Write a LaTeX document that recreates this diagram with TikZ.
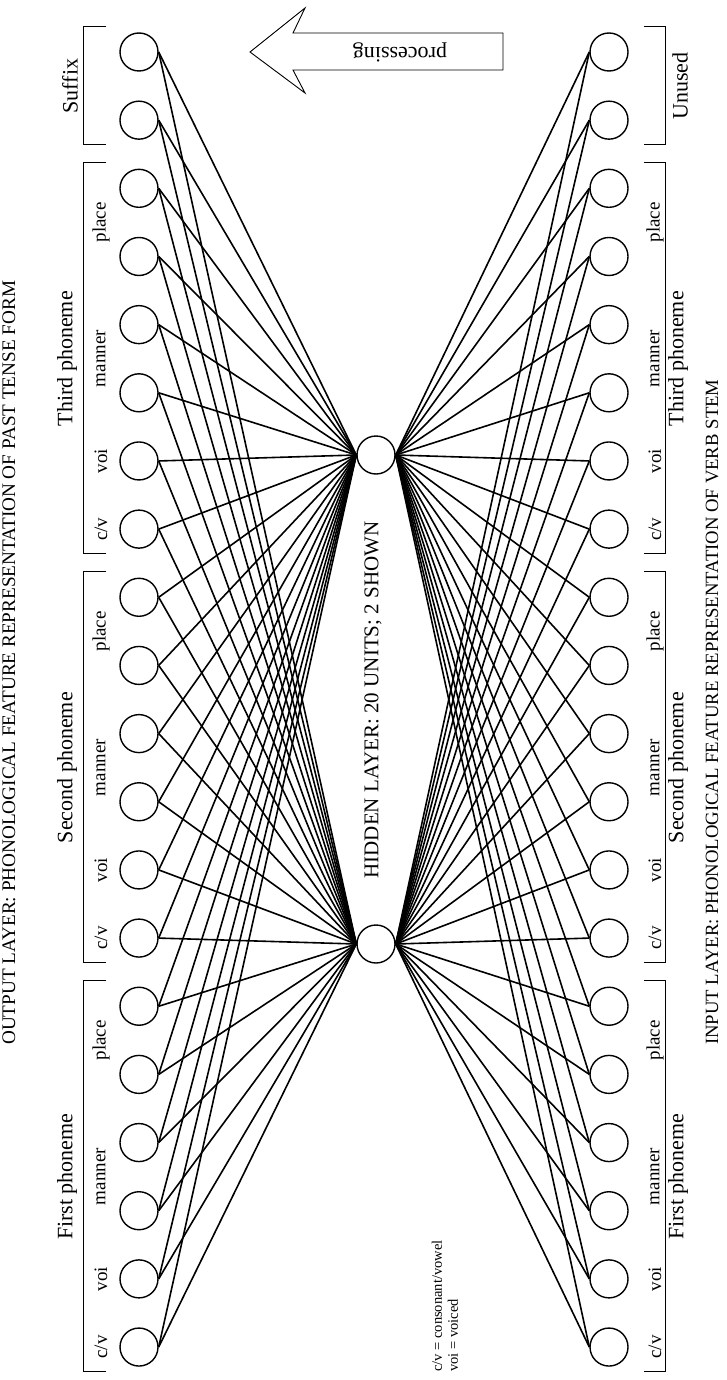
\documentclass[tikz,border=0pt]{standalone}
\usepackage{fontspec}
\setmainfont{Liberation Serif}
\begin{document}
\begin{tikzpicture}[x=1pt,y=-1pt,
  unit/.style={circle,draw,line width=1.4pt,minimum size=38pt,inner sep=0pt},
  conn/.style={line width=1.6pt},
  brk/.style={line width=0.8pt},
  feat/.style={rotate=90,font=\fontsize{19}{19}\selectfont,inner sep=0pt},
  grp/.style={rotate=90,font=\fontsize{22}{22}\selectfont,inner sep=0pt},
  ttl/.style={rotate=90,anchor=west,inner sep=0pt},
  legend/.style={rotate=90,anchor=west,font=\fontsize{14.5}{15}\selectfont,inner sep=0pt},
]
\useasboundingbox (0,0) rectangle (727,1380);
% units
\foreach \i in {0,...,19}{
  \node[unit] (o\i) at (139,{52+68.16*\i}) {};
  \node[unit] (n\i) at (609,{52+68.16*\i}) {};
}
\node[unit] (h1) at (376,455) {};
\node[unit] (h2) at (376,944) {};
% connections
\foreach \i in {0,...,19}{
  \draw[conn] (o\i.east) -- (h1.west);
  \draw[conn] (o\i.east) -- (h2.west);
  \draw[conn] (n\i.west) -- (h1.east);
  \draw[conn] (n\i.west) -- (h2.east);
}
% feature labels
\foreach \k in {0,6,12}{
  \node[feat] (lpl\k) at (101,{52+68.16*(2.5+\k)}) {place};
  \node[feat] (lma\k) at (101,{52+68.16*(4.5+\k)}) {manner};
  \node[feat] (lvo\k) at (101,{52+68.16*(6+\k)}) {voi};
  \node[feat] (lcv\k) at (101,{52+68.16*(7+\k)}) {c/v};
  \node[feat] (rpl\k) at (655,{52+68.16*(2.5+\k)}) {place};
  \node[feat] (rma\k) at (655,{52+68.16*(4.5+\k)}) {manner};
  \node[feat] (rvo\k) at (655,{52+68.16*(6+\k)}) {voi};
  \node[feat] (rcv\k) at (655,{52+68.16*(7+\k)}) {c/v};
}
% group labels
\node[grp] (lsuf) at (70,{52+68.16*0.5}) {Suffix};
\node[grp] (lg3) at (67,{52+68.16*4.5}) {Third phoneme};
\node[grp] (lg2) at (67,{52+68.16*10.5}) {Second phoneme};
\node[grp] (lg1) at (67,{52+68.16*16.5}) {First phoneme};
\node[grp] (runu) at (680,{52+68.16*0.5}) {Unused};
\node[grp] (rg3) at (678,{52+68.16*4.5}) {Third phoneme};
\node[grp] (rg2) at (678,{52+68.16*10.5}) {Second phoneme};
\node[grp] (rg1) at (678,{52+68.16*16.5}) {First phoneme};
% brackets
\foreach \a/\b in {0/1,2/7,8/13,14/19}{
  \draw[brk] (106,{52+68.16*\a-26}) -- (83,{52+68.16*\a-26}) -- (83,{52+68.16*\b+24}) -- (106,{52+68.16*\b+24});
  \draw[brk] (644,{52+68.16*\a-26}) -- (665,{52+68.16*\a-26}) -- (665,{52+68.16*\b+24}) -- (644,{52+68.16*\b+24});
}
% titles
\node[ttl,font=\fontsize{19.2}{20}\selectfont] (otitle) at (9,1045) {OUTPUT LAYER: PHONOLOGICAL FEATURE REPRESENTATION OF PAST TENSE FORM};
\node[ttl,font=\fontsize{18.7}{19}\selectfont] (ititle) at (712,1045) {INPUT LAYER: PHONOLOGICAL FEATURE REPRESENTATION OF VERB STEM};
\node[rotate=90,font=\fontsize{21}{22}\selectfont,inner sep=0pt] (hid) at (373,700) {HIDDEN LAYER: 20 UNITS; 2 SHOWN};
% legend
\node[legend] (leg1) at (437,1372) {c/v = consonant/vowel};
\node[legend] (leg2) at (453,1372) {voi = voiced};
% processing arrow
\draw[line width=0.9pt] (250,52) -- (305,8) -- (293,33) -- (503,33) -- (503,70) -- (293,70) -- (305,93) -- cycle;
\node[rotate=180,font=\fontsize{22}{22}\selectfont,inner sep=0pt] (proc) at (400,52) {processing};
\end{tikzpicture}
\end{document}
